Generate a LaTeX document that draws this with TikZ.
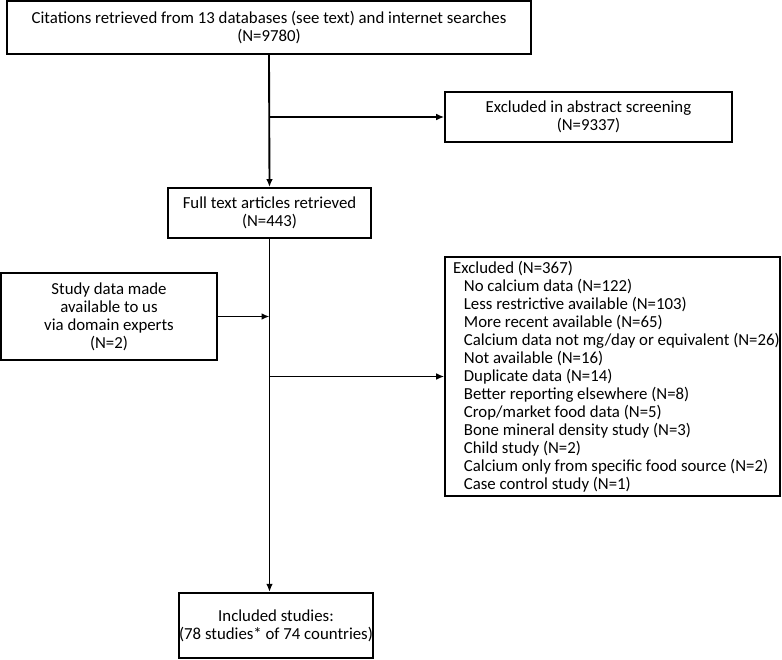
\documentclass[tikz,border=0pt]{standalone}
\usepackage{fontspec}
\setmainfont{Carlito}
\usetikzlibrary{arrows.meta}
\begin{document}
\begin{tikzpicture}[x=0.75pt,y=-0.75pt, line width=1.4pt,
  every node/.style={font=\fontsize{12.6}{13.5}\selectfont},
  box/.style={draw, line width=1.4pt, align=center, inner sep=0pt},
  arr/.style={line width=1.4pt, -{Latex[length=6pt,width=5pt]}}]
\useasboundingbox (0,0) rectangle (782,660);
% boxes
\node[box, minimum width=393pt, minimum height=40pt] (top) at (269,27.5)
  {Citations retrieved from 13 databases (see text) and internet searches\\(N=9780)};
\node[box, minimum width=215pt, minimum height=37.5pt] (abstract) at (588.5,117)
  {Excluded in abstract screening\\(N=9337)};
\node[box, minimum width=152pt, minimum height=37.5pt] (full) at (269.5,213)
  {Full text articles retrieved\\(N=443)};
\node[box, minimum width=162pt, minimum height=65pt] (study) at (109,316.5)
  {Study data made\\available to us\\via domain experts\\(N=2)};
\node[box, minimum width=251pt, minimum height=179pt, align=left] (excl) at (612.5,376.5)
  {\hspace*{6pt}Excluded (N=367)\\
  \hspace*{14pt}No calcium data (N=122)\\
  \hspace*{14pt}Less restrictive available (N=103)\\
  \hspace*{14pt}More recent available (N=65)\\
  \hspace*{14pt}Calcium data not mg/day or equivalent (N=26)\\
  \hspace*{14pt}Not available (N=16)\\
  \hspace*{14pt}Duplicate data (N=14)\\
  \hspace*{14pt}Better reporting elsewhere (N=8)\\
  \hspace*{14pt}Crop/market food data (N=5)\\
  \hspace*{14pt}Bone mineral density study (N=3)\\
  \hspace*{14pt}Child study (N=2)\\
  \hspace*{14pt}Calcium only from specific food source (N=2)\\
  \hspace*{14pt}Case control study (N=1)};
\node[box, minimum width=144pt, minimum height=49pt] (incl) at (276,625.5)
  {Included studies:\\(78 studies* of 74 countries)};
% connectors
\draw[arr] (top.south) -- (full.north);
\draw[arr] (top.south |- abstract.west) -- (abstract.west);
\draw[arr] (full.south) -- (full.south |- incl.north);
\draw[arr] (study.east) -- (full.south |- study.east);
\draw[arr] (full.south |- excl.west) -- (excl.west);
\end{tikzpicture}
\end{document}
